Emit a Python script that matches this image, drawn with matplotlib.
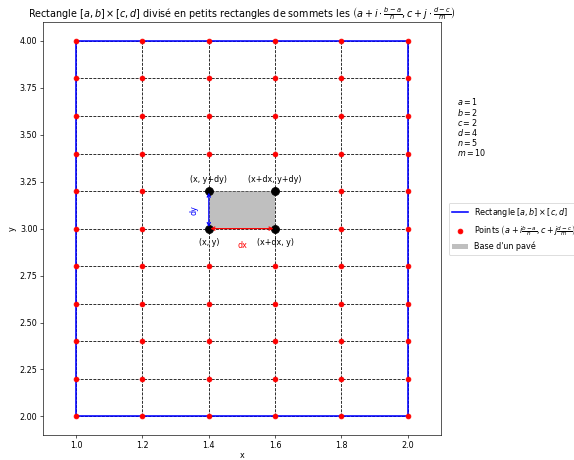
"""
Rectangle [a,b]x[c,d] decoupe en petits paves
"""
import matplotlib
matplotlib.use("Agg")
import matplotlib.pyplot as plt
import numpy as np
from matplotlib.patches import Rectangle

# parametres
a, b = 1, 2
c, d = 2, 4
n, m = 5, 10

# pave mis en evidence (i=2, j=5)
x0, y0 = 1.4, 3.0
dx = (b - a) / n
dy = (d - c) / m

xs = [1.0, 1.2, 1.4, 1.6, 1.8, 2.0]
ys = [2.0, 2.2, 2.4, 2.6, 2.8, 3.0, 3.2, 3.4, 3.6, 3.8, 4.0]

DPI = 57.4
fig = plt.figure(figsize=(574 / DPI, 460 / DPI), dpi=DPI)
ax = fig.add_subplot(111)
fig.subplots_adjust(left=0.075, right=0.768, bottom=0.054, top=0.952)

# grille
for xv in xs:
    ax.plot([xv, xv], [c, d], color='black', ls='--', lw=1, zorder=1)
for yv in ys:
    ax.plot([a, b], [yv, yv], color='black', ls='--', lw=1, zorder=1)

# rectangle
ax.plot([a, b, b, a, a], [c, c, d, d, c], color='blue', lw=2, zorder=3,
        label=r'Rectangle $[a,b]\times[c,d]$')

# points
X, Y = np.meshgrid(xs, ys)
ax.plot(X.ravel(), Y.ravel(), 'o', color='red', ms=6, ls='none', zorder=4,
        label=r'Points $\left(a+i\frac{b-a}{n},c+j\frac{d-c}{m}\right)$')

# pave
ax.add_patch(Rectangle((x0, y0), dx, dy, facecolor='gray', alpha=0.5,
                       edgecolor='none', zorder=2, label="Base d'un pavé"))
ax.plot([x0, x0 + dx, x0, x0 + dx], [y0, y0, y0 + dy, y0 + dy], 'o',
        color='black', ms=10, zorder=5)

ax.annotate('', xy=(x0 + dx, y0), xytext=(x0, y0),
            arrowprops=dict(arrowstyle='<->', color='red', lw=1.5), zorder=6)
ax.annotate('', xy=(x0, y0 + dy), xytext=(x0, y0),
            arrowprops=dict(arrowstyle='<->', color='blue', lw=1.5), zorder=6)
ax.text(x0 + dx / 2, y0 - 0.065, 'dx', color='red', ha='center', va='top')
ax.text(x0 - 0.045, y0 + dy / 2, 'dy', color='blue', ha='center',
        va='center', rotation=90)

ax.text(x0, y0 - 0.05, '(x, y)', ha='center', va='top')
ax.text(x0 + dx, y0 - 0.05, '(x+dx, y)', ha='center', va='top')
ax.text(x0, y0 + dy + 0.04, '(x, y+dy)', ha='center', va='bottom')
ax.text(x0 + dx, y0 + dy + 0.04, '(x+dx, y+dy)', ha='center', va='bottom')

ax.set_xlim(0.9, 2.1)
ax.set_ylim(1.9, 4.1)
ax.set_xlabel('x', labelpad=2)
ax.set_ylabel('y')
ax.set_title(r"Rectangle $[a,b]\times[c,d]$ divisé en petits rectangles de sommets les "
             r"$\left(a+i\cdot\frac{b-a}{n},c+j\cdot\frac{d-c}{m}\right)$")

ax.text(1.04, 0.82, '$a=1$\n$b=2$\n$c=2$\n$d=4$\n$n=5$\n$m=10$',
        transform=ax.transAxes, va='top', linespacing=0.9)

ax.legend(loc='center left', bbox_to_anchor=(1.01, 0.5))

fig.savefig('out.png', dpi=DPI)
